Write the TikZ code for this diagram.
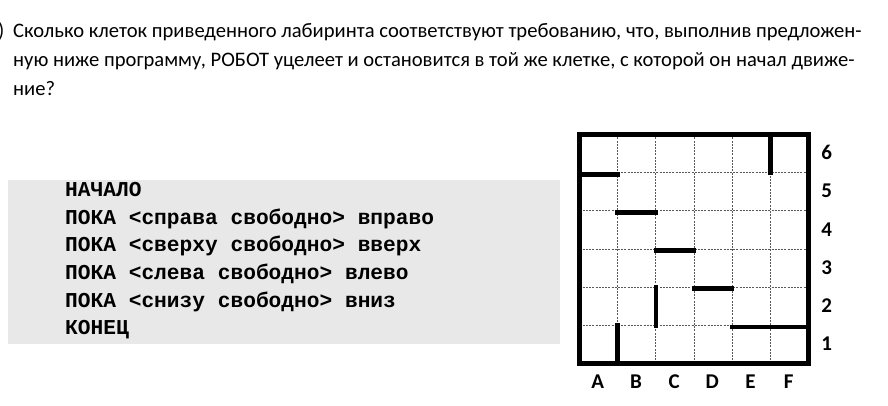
\documentclass[tikz,border=0pt]{standalone}
\usepackage{fontspec}
\setmainfont{Carlito}
\newfontfamily\codefont{Liberation Mono}
\definecolor{boxgray}{HTML}{E8E8E8}
\tikzset{
  question/.style={anchor=base west,inner sep=0pt,font=\fontsize{20.6}{24}\selectfont},
  codeline/.style={anchor=base west,inner sep=0pt,font=\codefont\bfseries\fontsize{21.2}{24}\selectfont},
  wall/.style={line width=4.5pt,line cap=rect},
  gridline/.style={dash pattern=on 2pt off 1.2pt,line width=0.9pt,black!65},
  label/.style={font=\bfseries\fontsize{21}{24}\selectfont}
}
\begin{document}
\begin{tikzpicture}[x=1pt,y=1pt]
  \useasboundingbox (0,0) rectangle (888,406);
  %% question
  \node[anchor=base east,inner sep=0pt,font=\fontsize{20.6}{24}\selectfont] (num) at (4.5,368.7) {)};
  \node[question] (q1) at (13,368.7) {Сколько клеток приведенного лабиринта соответствуют требованию, что, выполнив предложен-};
  \node[question] (q2) at (13,339.3) {ную ниже программу, РОБОТ уцелеет и остановится в той же клетке, с которой он начал движе-};
  \node[question] (q3) at (13,310.3) {ние?};
  %% program
  \fill[boxgray] (8,226) rectangle (560,62);
  \node[codeline] (p1) at (65,209.3) {НАЧАЛО};
  \node[codeline] (p2) at (65,181.7) {ПОКА <справа свободно> вправо};
  \node[codeline] (p3) at (65,154.1) {ПОКА <сверху свободно> вверх};
  \node[codeline] (p4) at (65,126.5) {ПОКА <слева свободно> влево};
  \node[codeline] (p5) at (65,98.9) {ПОКА <снизу свободно> вниз};
  \node[codeline] (p6) at (65,71.3) {КОНЕЦ};
  %% maze
  \begin{scope}[shift={(579.5,42.5)},x=38.15pt,y=38.15pt]
    \foreach \i in {1,...,5} {
      \draw[gridline] (\i,0) -- (\i,6);
      \draw[gridline] (0,\i) -- (6,\i);
    }
    \draw[line width=5.5pt] (0,0) rectangle (6,6);
    %% walls
    \draw[wall] (5,5) -- (5,6);
    \draw[wall] (0,4.96) -- (1,4.96);
    \draw[wall] (1,3.96) -- (2,3.96);
    \draw[wall] (2,2.96) -- (3,2.96);
    \draw[wall] (3,1.96) -- (4,1.96);
    \draw[wall] (2,1) -- (2,2);
    \draw[wall] (4,0.96) -- (6,0.96);
    \draw[wall] (1,0) -- (1,1);
    %% labels
    \foreach \c [count=\i from 0] in {A,B,C,D,E,F}
      \node[label] (col\c) at (\i+0.48,-0.48) {\c};
    \foreach \r in {1,...,6}
      \node[label] (row\r) at (6.48,\r-0.48) {\r};
  \end{scope}
\end{tikzpicture}
\end{document}
